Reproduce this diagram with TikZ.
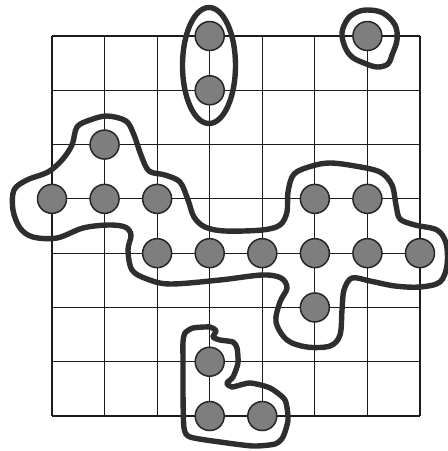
\documentclass[tikz,border=0pt]{standalone}
\usetikzlibrary{positioning}
\definecolor{stonefill}{HTML}{7E7E7E}
\definecolor{stoneline}{HTML}{262626}
\definecolor{groupline}{HTML}{2E2E2E}
\definecolor{gridline}{HTML}{1C1C1C}

\begin{document}
\begin{tikzpicture}[
    x=0.5pt, y=-0.5pt,
    stone/.style={circle, draw=stoneline, fill=stonefill, line width=0.75pt, minimum size=14.5pt, inner sep=0pt},
    grp/.style={draw=groupline, line width=2.7pt, line join=round},
    gridrule/.style={gridline, line width=0.6pt}]
  \useasboundingbox (0,0) rectangle (448,451);

  % The 7 by 7 board.
  \foreach \k in {0,...,7} {
    \draw[gridrule] ({52+52.57*\k},36) -- ({52+52.57*\k},416);
    \draw[gridrule] (52,{36+54.29*\k}) -- (420,{36+54.29*\k});
  }

  % Outlines round the groups.
  \draw[grp] (209,65.5) ellipse [x radius=26.5, y radius=58];
  \draw[grp] plot[smooth cycle, tension=0.6] coordinates {
    (367,10) (383,13) (395,25) (397,40) (392,55) (388,64) (377,67)
    (364,63) (352,57) (345,47) (342,33) (347,20) (355,13)};
  \draw[grp] plot[smooth cycle, tension=0.55] coordinates {
    (107,116) (126,121) (134,135) (141,155) (149,171) (165,175) (180,182)
    (188,200) (194,217) (205,227) (225,231) (262,230) (280,225) (287,212)
    (288,192) (294,174) (312,166) (330,163) (355,166) (380,172) (392,185)
    (396,205) (400,219) (415,225) (437,230) (446,243) (447,265) (440,282)
    (420,287) (395,286) (370,281) (352,278) (344,290) (342,310) (340,335)
    (330,346) (307,347) (287,340) (276,322) (280,302) (287,288) (281,278)
    (262,275) (220,280) (170,284) (147,279) (132,270) (128,250) (131,235)
    (125,227) (108,225) (83,228) (57,238) (33,237) (20,228) (13,210)
    (14,190) (27,180) (48,172) (62,160) (72,145) (77,127) (90,120)};
  \draw[grp] plot[smooth cycle, tension=0.4] coordinates {
    (185,333) (193,328) (210,327) (216,331) (213,337) (220,340) (233,342)
    (237,348) (238,363) (233,377) (227,383) (232,387) (250,383) (270,388)
    (285,400) (288,420) (283,437) (275,444) (253,446) (220,442) (190,437)
    (184,428) (183,393) (183,360) (183,342)};

  % Stones at the crossings.
  \foreach \c/\r in {3/0, 3/1, 6/0, 1/2, 0/3, 1/3, 2/3, 5/3, 6/3,
                     2/4, 3/4, 4/4, 5/4, 6/4, 7/4, 5/5, 3/6, 3/7, 4/7}
    \node[stone] (s\c\r) at ({52+52.57*\c},{36+54.29*\r}) {};
\end{tikzpicture}
\end{document}
